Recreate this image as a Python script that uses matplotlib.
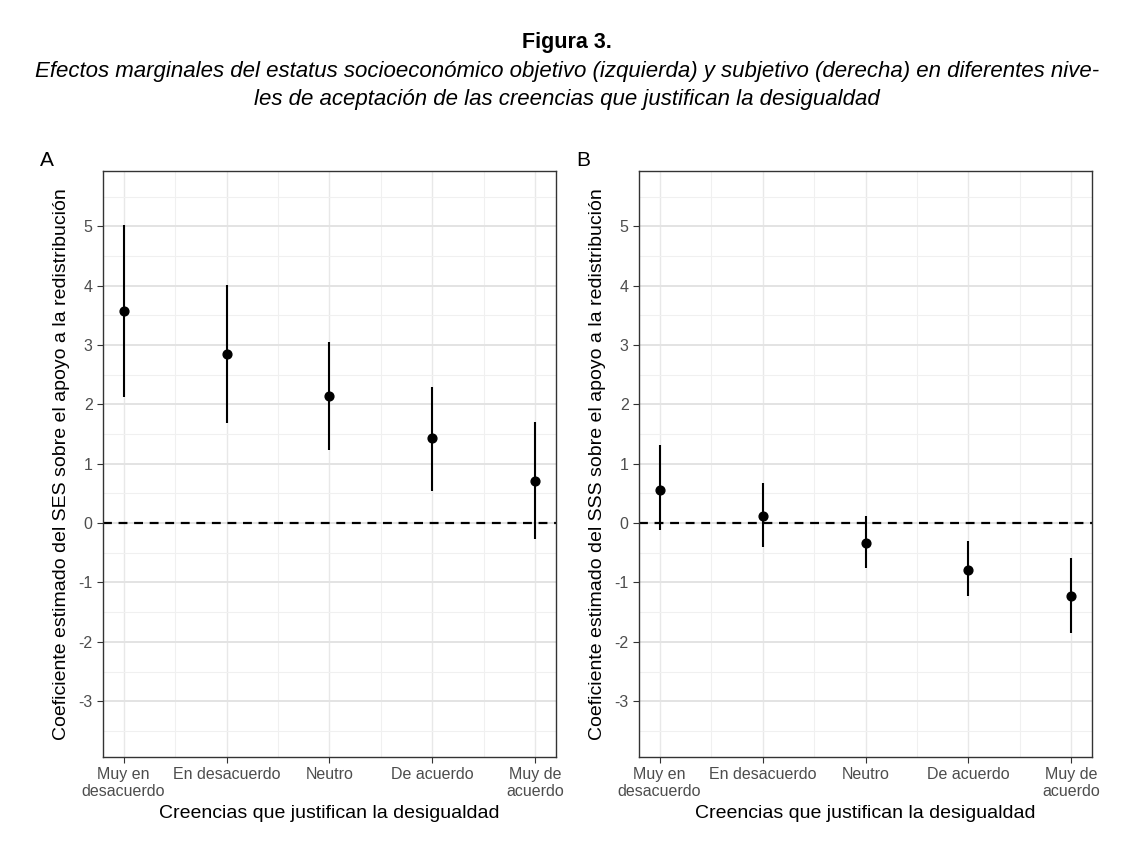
import numpy as np
import matplotlib
matplotlib.use('Agg')
import matplotlib.pyplot as plt

plt.rcParams['font.family'] = ['Liberation Sans', 'DejaVu Sans']
plt.rcParams['axes.unicode_minus'] = False

# categories and estimates
categorias = ['Muy en\ndesacuerdo', 'En desacuerdo', 'Neutro', 'De acuerdo', 'Muy de\nacuerdo']
ses_est = [3.57, 2.85, 2.14, 1.43, 0.71]
ses_low = [2.12, 1.69, 1.23, 0.54, -0.26]
ses_high = [5.02, 4.01, 3.05, 2.29, 1.71]
sss_est = [0.56, 0.12, -0.33, -0.79, -1.23]
sss_low = [-0.11, -0.40, -0.75, -1.23, -1.85]
sss_high = [1.31, 0.68, 0.12, -0.31, -0.59]
ylabels = ['Coeficiente estimado del SES sobre el apoyo a la redistribución',
           'Coeficiente estimado del SSS sobre el apoyo a la redistribución']
xlabel = 'Creencias que justifican la desigualdad'

fig = plt.figure(figsize=(11.34, 8.46), dpi=100)

fig.text(0.5, 0.950, 'Figura 3.', ha='center', va='center', fontsize=15.5, fontweight='bold')
fig.text(0.5, 0.915, 'Efectos marginales del estatus socioeconómico objetivo (izquierda) y subjetivo (derecha) en diferentes nive-',
         ha='center', va='center', fontsize=16, style='italic')
fig.text(0.5, 0.882, 'les de aceptación de las creencias que justifican la desigualdad',
         ha='center', va='center', fontsize=16, style='italic')

paneles = [
    ('A', [0.0908, 0.1052, 0.3995, 0.6927], ses_est, ses_low, ses_high, ylabels[0], 0.041),
    ('B', [0.5635, 0.1052, 0.3995, 0.6927], sss_est, sss_low, sss_high, ylabels[1], 0.514),
]

x = np.arange(1, len(categorias) + 1)
for letra, pos, est, low, high, ylab, lx in paneles:
    ax = fig.add_axes(pos)
    ax.set_xlim(0.8, 5.2)
    ax.set_ylim(-3.94, 5.93)
    ax.set_xticks(x)
    ax.set_xticklabels(categorias, fontsize=11.5, color='#4d4d4d', linespacing=1.15)
    ax.set_xticks(x[:-1] + 0.5, minor=True)
    ax.set_yticks(np.arange(-3, 6))
    ax.set_yticks(np.arange(-3.5, 6, 1.0), minor=True)
    ax.tick_params(axis='y', labelsize=11.5, labelcolor='#4d4d4d', length=4, color='#333333')
    ax.tick_params(axis='x', length=4, color='#333333', pad=3)
    ax.tick_params(which='minor', length=0)
    ax.grid(True, which='major', axis='y', color='#e3e3e3', linewidth=1.4)
    ax.grid(True, which='major', axis='x', color='#e8e8e8', linewidth=1.0)
    ax.grid(True, which='minor', color='#f0f0f0', linewidth=0.8)
    ax.set_axisbelow(True)
    for s in ax.spines.values():
        s.set_color('#333333')
        s.set_linewidth(1.0)
    ax.axhline(0, color='black', linestyle=(0, (4, 3)), linewidth=1.6, zorder=2)
    ax.vlines(x, low, high, color='black', linewidth=1.5, zorder=3)
    ax.scatter(x, est, s=40, color='black', zorder=4)
    ax.set_ylabel(ylab, fontsize=14, labelpad=6)
    ax.set_xlabel(xlabel, fontsize=14, labelpad=5)
    fig.text(lx, 0.81, letra, fontsize=15, ha='center', va='center')

fig.savefig('out.png', dpi=100)
